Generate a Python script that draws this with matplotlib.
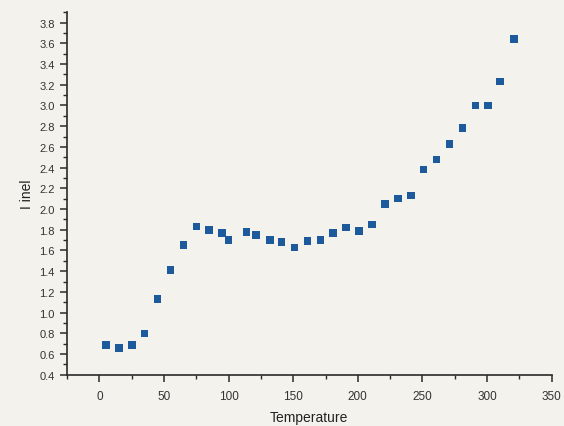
import matplotlib
matplotlib.use("Agg")
from matplotlib import pyplot as plt
from matplotlib.ticker import MultipleLocator

plt.rcParams['font.family'] = ['Liberation Sans', 'DejaVu Sans']

temperature = [5, 15, 25, 35, 45, 55, 65, 75, 85, 95, 100, 114, 121, 132, 141,
               151, 161, 171, 181, 191, 201, 211, 221, 231, 241, 251, 261,
               271, 281, 291, 301, 310, 321]
i_inel = [0.69, 0.66, 0.69, 0.80, 1.13, 1.41, 1.65, 1.83, 1.80, 1.77, 1.70,
          1.78, 1.75, 1.70, 1.68, 1.63, 1.69, 1.70, 1.77, 1.82, 1.79, 1.85,
          2.05, 2.10, 2.13, 2.38, 2.48, 2.63, 2.78, 3.00, 3.00, 3.23, 3.64]

paper = '#f4f2ec'
ink = '#2a2a2a'

fig = plt.figure(figsize=(5.64, 4.27), dpi=100, facecolor=paper)
ax = fig.add_axes([0.119, 0.120, 0.859, 0.849], facecolor=paper)

ax.scatter(temperature, i_inel, marker='s', s=30, color='#1d5a9c',
           edgecolors='none', zorder=3)

ax.set_xlim(-25, 350)
ax.set_ylim(0.4, 3.9)
ax.xaxis.set_major_locator(MultipleLocator(50))
ax.xaxis.set_minor_locator(MultipleLocator(25))
ax.set_yticks([round(0.4 + 0.2 * k, 1) for k in range(18)])
ax.yaxis.set_minor_locator(MultipleLocator(0.1))

for side in ('top', 'right'):
    ax.spines[side].set_visible(False)
for side in ('left', 'bottom'):
    ax.spines[side].set_linewidth(1.2)
    ax.spines[side].set_color(ink)

ax.tick_params(which='major', length=5, width=1.1, color=ink,
               labelsize=8, labelcolor='#333333', pad=4)
ax.tick_params(which='minor', length=3, width=1.0, color=ink)
ax.tick_params(axis='x', which='major', pad=6, labelsize=8.5)

ax.set_xlabel('Temperature', fontsize=10, color='#222222', labelpad=6)
ax.set_ylabel('I inel', fontsize=10, color='#222222', labelpad=4)

fig.savefig('out.png', dpi=100, facecolor=paper)
